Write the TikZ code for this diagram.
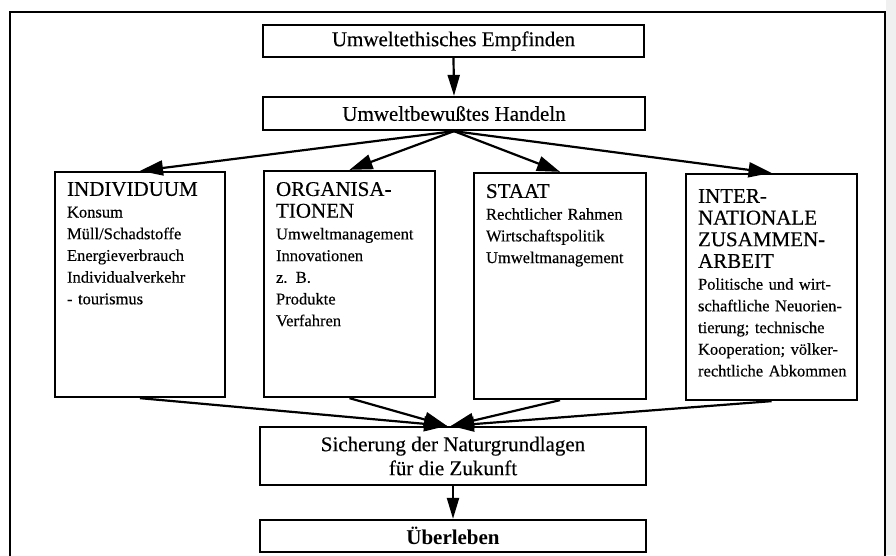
\documentclass[tikz,border=0pt]{standalone}
\usepackage{fontspec}
\setmainfont{Liberation Serif}[UprightFeatures={FakeBold=0.35}]
\usetikzlibrary{arrows.meta}
\newcommand{\hdfont}{\fontsize{21}{21.7}\selectfont}
\newcommand{\itfont}{\fontsize{16.5}{21.7}\selectfont}
\newcommand{\bxfont}{\fontsize{21}{24}\selectfont}
\begin{document}
\lineskiplimit=-30pt
\lineskip=0pt
\begin{tikzpicture}[x=1pt,y=-1pt,
  box/.style={draw, line width=2.3pt, inner sep=0pt, font=\bxfont, align=center},
  arr/.style={line width=2.2pt, -{Triangle[length=23pt,width=15pt]}},
  varr/.style={line width=2.2pt, -{Triangle[length=21pt,width=12pt]}},
  txtblock/.style={anchor=north west, inner sep=0pt, text width=150pt, align=left, font=\itfont}
]
\clip (0,0) rectangle (896,555);
\fill[white] (0,0) rectangle (896,555);
\fill[black!6] (886,0) rectangle (896,555);
\draw[line width=2.2pt] (10,12) rectangle (885,575);

\node[box, minimum width=381pt, minimum height=32pt] (b1) at (453.5,41) {Umweltethisches Empfinden};
\node[box, minimum width=382pt, minimum height=33pt] (b2) at (454,113.5) {Umweltbewußtes Handeln};

\node[box, minimum width=170pt, minimum height=225pt] (ind) at (140,284.5) {};
\node[box, minimum width=171pt, minimum height=226pt] (org) at (349.5,284) {};
\node[box, minimum width=172pt, minimum height=226pt] (sta) at (560,286) {};
\node[box, minimum width=171pt, minimum height=226pt] (int) at (771.5,287) {};

\node[txtblock] (tind) at ([shift={(13pt,-11pt)}]ind.north west)
  {{\hdfont INDIVIDUUM\par}Konsum\par Müll/Schadstoffe\par Energieverbrauch\par Individualverkehr\par - tourismus};
\node[txtblock] (torg) at ([shift={(13pt,-12pt)}]org.north west)
  {{\hdfont ORGANISA-\par TIONEN\par}Umweltmanagement\par Innovationen\par z. B.\par Produkte\par Verfahren};
\node[txtblock] (tsta) at ([shift={(13pt,-12pt)}]sta.north west)
  {{\hdfont STAAT\par}Rechtlicher Rahmen\par Wirtschaftspolitik\par Umweltmanagement};
\node[txtblock] (tint) at ([shift={(13pt,-16pt)}]int.north west)
  {{\hdfont INTER-\par NATIONALE\par ZUSAMMEN-\par ARBEIT\par}Politische und wirt-\par schaftliche Neuorien-\par tierung; technische\par Kooperation; völker-\par rechtliche Abkommen};

\node[box, minimum width=386pt, minimum height=58pt] (sich) at (453,456) {Sicherung der Naturgrundlagen\\für die Zukunft};
\node[box, minimum width=386pt, minimum height=32pt, font=\bxfont\bfseries] (ueb) at (453,536) {Überleben};

\coordinate (sl) at ([xshift=-6pt]sich.north);
\coordinate (sr) at ([xshift=-2pt]sich.north);

\draw[varr] (b1.south) -- (b2.north);
\draw[arr] (b2.south) -- (ind.north);
\draw[arr] (b2.south) -- (org.north);
\draw[arr] (b2.south) -- (sta.north);
\draw[arr] (b2.south) -- (int.north);
\draw[arr] (ind.south) -- (sl);
\draw[arr] (org.south) -- (sl);
\draw[arr] (sta.south) -- (sr);
\draw[arr] (int.south) -- (sr);
\draw[varr] (sich.south) -- (ueb.north);
\end{tikzpicture}
\end{document}
